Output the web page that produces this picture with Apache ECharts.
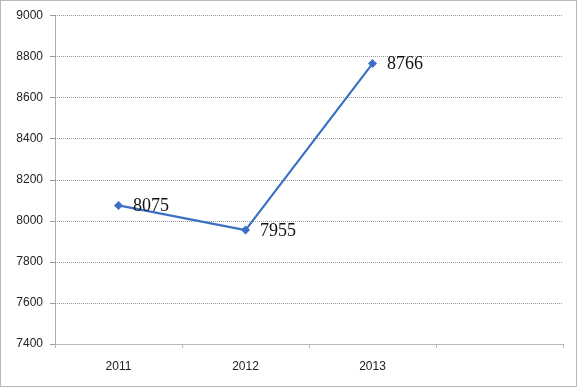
<!DOCTYPE html>
<html>
<head>
<meta charset="utf-8">
<script src="https://cdn.jsdelivr.net/npm/echarts@6/dist/echarts.min.js"></script>
<style>
html,body{margin:0;padding:0;background:#fff;}
#main{width:578px;height:388px;}
</style>
</head>
<body>
<div id="main"></div>
<script>
const categories = ['2011', '2012', '2013', ''];
const values = [8075, 7955, 8766, null];
const yTicks = { min: 7400, max: 9000, interval: 200 };

const chart = echarts.init(document.getElementById('main'), null, { renderer: 'canvas' });
chart.setOption({
  animation: false,
  backgroundColor: '#fff',
  graphic: [{
    type: 'rect',
    shape: { x: 0.5, y: 0.5, width: 576, height: 386 },
    style: { fill: 'none', stroke: '#707070', lineWidth: 1, lineDash: [1, 1] },
    silent: true
  }],
  grid: { left: 55, right: 15, top: 15.5, bottom: 44, containLabel: false },
  xAxis: {
    type: 'category',
    data: categories,
    boundaryGap: true,
    axisLine: { show: true, lineStyle: { color: '#b8b8b8', width: 1 } },
    axisTick: { show: true, length: 4, lineStyle: { color: '#b8b8b8' } },
    axisLabel: { color: '#222', fontSize: 12, fontFamily: 'Liberation Sans, Arial, sans-serif', margin: 17 },
    splitLine: { show: false }
  },
  yAxis: {
    type: 'value',
    min: yTicks.min, max: yTicks.max, interval: yTicks.interval,
    axisLine: { show: true, lineStyle: { color: '#9a9a9a', width: 1, type: [1, 1] } },
    axisTick: { show: true, length: 5, lineStyle: { color: '#9a9a9a' } },
    axisLabel: {
      color: '#222', fontSize: 12, fontFamily: 'Liberation Sans, Arial, sans-serif', margin: 12,
      formatter: function (v) { return String(v); }
    },
    splitLine: { show: true, lineStyle: { color: '#9a9a9a', width: 1, type: [1, 1] } }
  },
  series: [{
    type: 'line',
    data: values,
    symbol: 'diamond',
    symbolSize: 9,
    lineStyle: { color: '#3b70c4', width: 2.2 },
    itemStyle: { color: '#3b70c4' },
    label: {
      show: true,
      position: 'right',
      distance: 10,
      offset: [0, 1],
      color: '#111',
      fontSize: 18,
      fontFamily: 'Liberation Serif, Times New Roman, serif'
    }
  }]
});
</script>
</body>
</html>
